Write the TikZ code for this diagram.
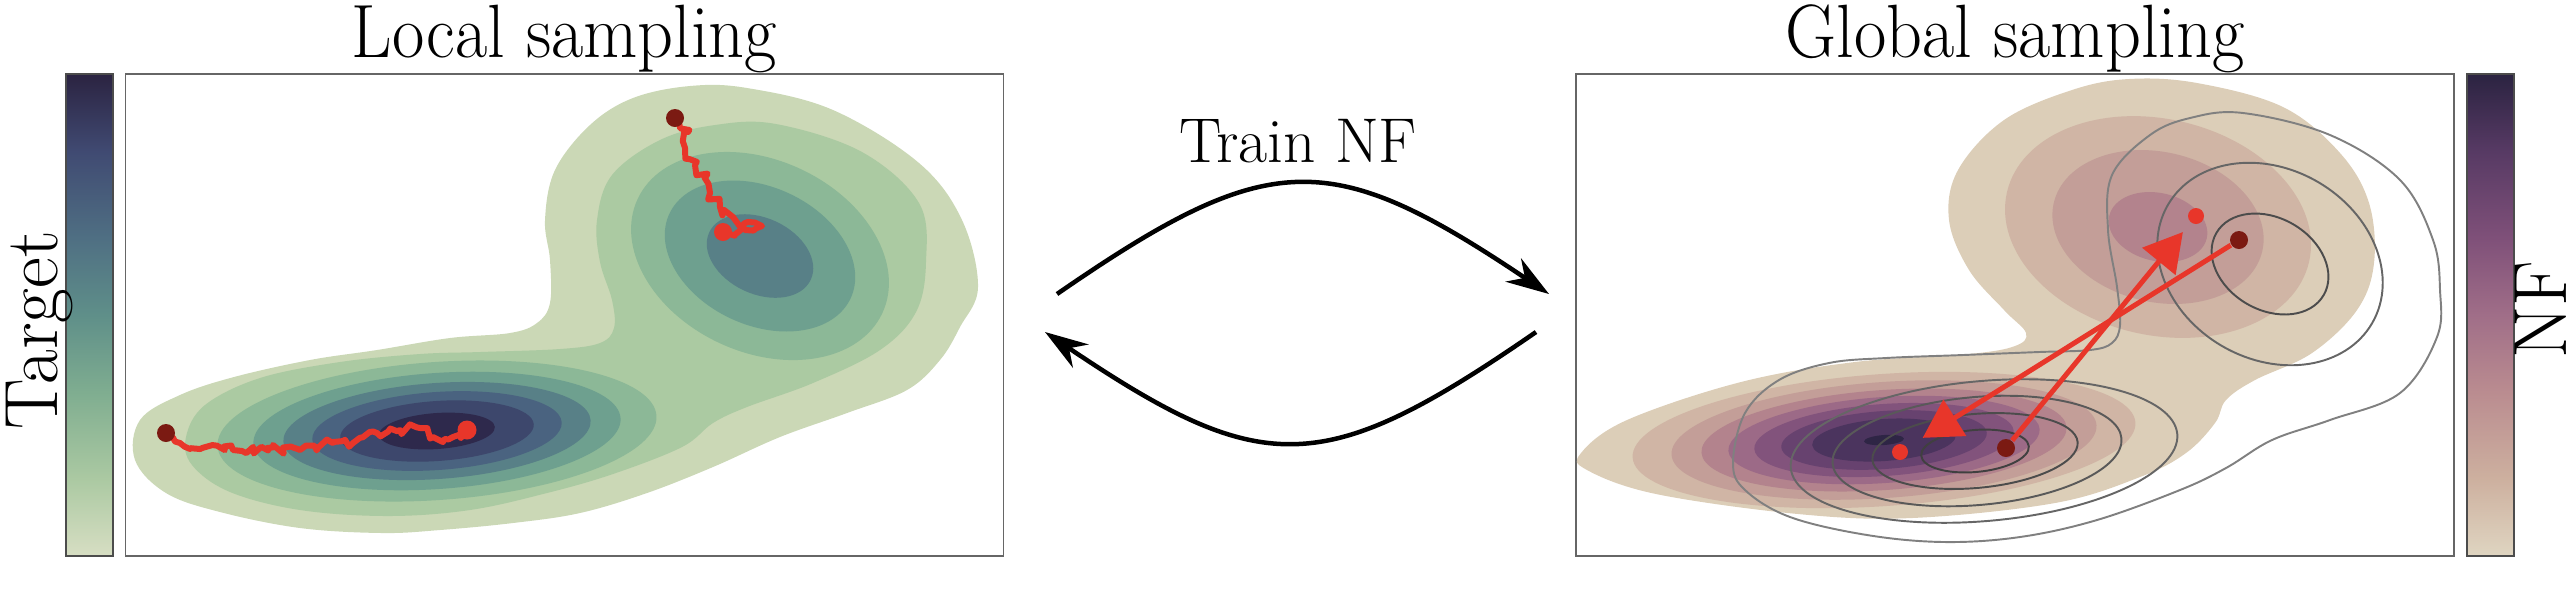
\documentclass[tikz,border=0pt]{standalone}
\usetikzlibrary{positioning,arrows.meta,decorations.pathmorphing}
\definecolor{tg1}{HTML}{CBD8B6}
\definecolor{tg2}{HTML}{ABCAA2}
\definecolor{tg3}{HTML}{8CB897}
\definecolor{tg4}{HTML}{6EA08F}
\definecolor{tg5}{HTML}{588087}
\definecolor{tg6}{HTML}{4A6380}
\definecolor{tg7}{HTML}{3D476C}
\definecolor{tg8}{HTML}{2E294C}
\definecolor{nf1}{HTML}{DCCEB8}
\definecolor{nf2}{HTML}{D0B5A5}
\definecolor{nf3}{HTML}{C39E98}
\definecolor{nf4}{HTML}{B3838D}
\definecolor{nf5}{HTML}{9C6A87}
\definecolor{nf6}{HTML}{82537C}
\definecolor{nf7}{HTML}{67426F}
\definecolor{nf8}{HTML}{4B345E}
\definecolor{nf9}{HTML}{2E2545}
\definecolor{tb0}{HTML}{D7DEC3}
\definecolor{tb1}{HTML}{ABC9A2}
\definecolor{tb2}{HTML}{7FAD90}
\definecolor{tb3}{HTML}{5F8F89}
\definecolor{tb4}{HTML}{4F6F83}
\definecolor{tb5}{HTML}{404A72}
\definecolor{tb6}{HTML}{2B2341}
\definecolor{nb0}{HTML}{DFD5C1}
\definecolor{nb1}{HTML}{CDB09F}
\definecolor{nb2}{HTML}{BA8C90}
\definecolor{nb3}{HTML}{A06E88}
\definecolor{nb4}{HTML}{7F5079}
\definecolor{nb5}{HTML}{573A64}
\definecolor{nb6}{HTML}{2B2341}
\definecolor{chainred}{HTML}{E8362A}
\definecolor{dotdark}{HTML}{7B1A12}
\pgfdeclareverticalshading{targetbar}{100bp}{color(0bp)=(tb0); color(25bp)=(tb0); color(33bp)=(tb1); color(42bp)=(tb2); color(50bp)=(tb3); color(58bp)=(tb4); color(67bp)=(tb5); color(75bp)=(tb6); color(100bp)=(tb6)}
\pgfdeclareverticalshading{nfbar}{100bp}{color(0bp)=(nb0); color(25bp)=(nb0); color(33bp)=(nb1); color(42bp)=(nb2); color(50bp)=(nb3); color(58bp)=(nb4); color(67bp)=(nb5); color(75bp)=(nb6); color(100bp)=(nb6)}
\newcommand{\narrowtext}[1]{\scalebox{0.93}[1]{#1}}
\tikzset{
	panel/.style={draw=black!60, line width=0.5pt, minimum width=87.8mm, minimum height=48.2mm, inner sep=0pt},
	cbar/.style={shade, draw=black!70, line width=0.5pt, minimum width=4.7mm, minimum height=48.2mm, inner sep=0pt},
	title/.style={font=\fontsize{21.5}{25}\selectfont, inner sep=0pt},
	arrow/.style={line width=0.45mm, -{Stealth[length=4.3mm, width=2.8mm, inset=1.4mm]}},
	chain/.style={draw=chainred, line width=0.6mm, line join=round, decorate, decoration={random steps, segment length=0.5mm, amplitude=0.55mm}},
	jump/.style={draw=chainred, line width=0.5mm, -{Triangle[length=3.8mm, width=4.2mm]}},
	startdot/.style={circle, fill=dotdark, inner sep=0pt, minimum size=1.8mm},
	enddot/.style={circle, fill=chainred, inner sep=0pt, minimum size=1.8mm},
	tline/.style={line width=0.55pt},
}

\begin{document}
\begin{tikzpicture}[x=0.1mm, y=-0.1mm]
\useasboundingbox (0,0) rectangle (2576,590);
\node (lbox) [panel] at (564.5,315) {};
\node (rbox) [panel] at (2015,315) {};
\node (ltitle) [title, above=0pt of lbox] {\narrowtext{Local sampling}};
\node (rtitle) [title, above=0pt of rbox] {\narrowtext{Global sampling}};
\node (lbar) [cbar, shading=targetbar, left=1.1mm of lbox] {};
\node (rbar) [cbar, shading=nfbar, right=1.1mm of rbox] {};
\node (tlab) [title, rotate=90, anchor=base] at (57,330) {Target};
\node (nflab) [title, rotate=90, anchor=base] at (2566,310) {NF};
\node (train) [title, font=\fontsize{18}{21}\selectfont, anchor=base] at (1298,162) {Train NF};

% target density
\fill[tg1] plot[smooth cycle, tension=0.6] coordinates {(690,86) (747,88) (833,110) (919,163) (962,220) (978,287) (960,327) (940,360) (907,390) (847,413) (780,437) (713,467) (647,493) (580,513) (513,523) (440,530) (382,533) (300,528) (220,512) (166,493) (135,460) (140,420) (180,395) (234,377) (310,360) (377,350) (450,338) (510,333) (537,323) (550,303) (550,260) (545,220) (555,170) (590,125) (633,98)};
\fill[tg2] plot[smooth cycle, tension=0.6] coordinates {(776,124) (862,152) (919,203) (926,262) (916,312) (880,350) (813,383) (747,407) (713,423) (682,447) (613,474) (547,493) (470,510) (388,516) (300,510) (230,492) (192,465) (186,437) (205,405) (260,378) (340,362) (420,354) (480,352) (560,349) (600,343) (614,328) (612,300) (600,262) (597,220) (612,175) (660,140) (715,125)};
\foreach \c/\rx/\ry in {tg3/220/69, tg4/184/58, tg5/154/48, tg6/125/39, tg7/97/30, tg8/58/18}
\fill[\c, rotate around={4:(437,431)}] (437,431) ellipse [x radius=\rx, y radius=\ry];
\foreach \c/\rx/\ry in {tg3/135/96, tg4/100/69, tg5/56/38}
\fill[\c, rotate around={-25:(760,256)}] (760,256) ellipse [x radius=\rx, y radius=\ry];

\pgfmathsetseed{11}
\coordinate (la0) at (166,433);
\coordinate (la1) at (467,430);
\coordinate (lb0) at (675,118);
\coordinate (lb1) at (723,232);
\draw[chain] (la0) -- (180,443) -- (200,449) -- (233,450) -- (267,448) -- (300,450) -- (333,442) -- (353,443) -- (377,433) -- (400,430) -- (420,428) -- (433,437) -- (453,437) -- (la1);
\draw[chain] (lb0) -- (688,132) -- (685,148) -- (695,165) -- (705,178) -- (710,193) -- (720,207) -- (733,217) -- (745,223) -- (762,226) -- (745,230) -- (lb1);
\node (lastart) [startdot] at (la0) {};
\node (laend) [enddot, minimum size=1.9mm] at (la1) {};
\node (lbstart) [startdot] at (lb0) {};
\node (lbend) [enddot] at (lb1) {};

% flow density and target lines
\fill[nf1] plot[smooth cycle, tension=0.6] coordinates {(1581,453) (1627,420) (1741,382) (1855,362) (1969,354) (2015,346) (2026,333) (2004,310) (1969,270) (1949,220) (1958,170) (2004,120) (2072,90) (2129,79) (2197,83) (2283,107) (2340,153) (2369,203) (2374,263) (2357,310) (2312,353) (2255,380) (2226,400) (2215,423) (2186,453) (2140,477) (2055,503) (1912,518) (1798,514) (1656,494) (1587,470)};
\foreach \c/\rx/\ry in {nf2/252/66, nf3/213/58, nf4/183/50, nf5/156/43, nf6/130/36, nf7/103/29, nf8/72/21, nf9/20/5}
\fill[\c, rotate around={4:(1884,440)}] (1884,440) ellipse [x radius=\rx, y radius=\ry];
\foreach \c/\rx/\ry in {nf2/155/108, nf3/107/75, nf4/50/34}
\fill[\c, rotate around={-13:(2158,227)}] (2158,227) ellipse [x radius=\rx, y radius=\ry];

\draw[tline, black!50] plot[smooth cycle, tension=0.6] coordinates {(2243,113) (2330,135) (2400,180) (2433,240) (2440,290) (2437,337) (2400,393) (2330,420) (2272,440) (2226,468) (2180,490) (2097,520) (2020,537) (1944,542) (1867,535) (1790,517) (1745,490) (1733,463) (1745,413) (1779,380) (1829,363) (1886,358) (1963,355) (2039,352) (2090,350) (2112,343) (2120,325) (2117,287) (2108,230) (2112,175) (2150,135) (2190,118)};
\foreach \g/\cx/\rx/\ry in {60/1984/194/70, 65/1977/145/54, 70/1975/103/37, 75/1975/54/21}
\draw[tline, black!\g, rotate around={5:(\cx,451)}] (\cx,451) ellipse [x radius=\rx, y radius=\ry];
\foreach \g/\rx/\ry in {60/118/95, 70/62/46}
\draw[tline, black!\g, rotate around={-30:(2270,264)}] (2270,264) ellipse [x radius=\rx, y radius=\ry];

\node (rdl) [startdot] at (2006,448) {};
\node (rbl) [enddot, minimum size=1.6mm] at (1900,452) {};
\node (rdu) [startdot] at (2239,240) {};
\node (rbu) [enddot, minimum size=1.6mm] at (2196,216) {};
\draw[jump, shorten >=1.2mm] (rdl) -- (rbu);
\draw[jump, shorten >=1.8mm] (rdu) -- (rbl);

\coordinate (fwd0) at (1057,294);
\coordinate (fwd1) at (1549,294);
\coordinate (bwd0) at (1536,332);
\coordinate (bwd1) at (1045,332);
\draw[arrow] (fwd0) .. controls (1270,147) and (1330,147) .. (fwd1);
\draw[arrow] (bwd0) .. controls (1323,479) and (1263,479) .. (bwd1);
\end{tikzpicture}
\end{document}
